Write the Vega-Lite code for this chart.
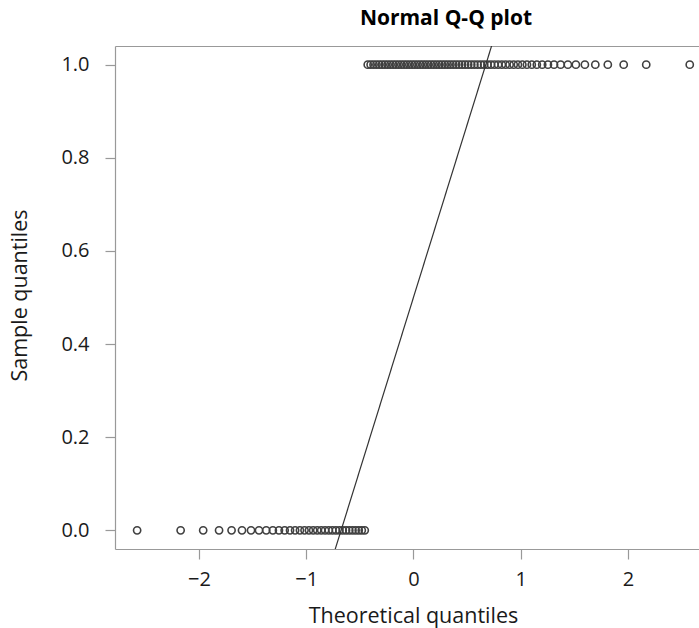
{
  "$schema": "https://vega.github.io/schema/vega-lite/v6.json",
  "width": 584,
  "height": 503,
  "autosize": {"type": "none"},
  "padding": {"left": 115, "top": 46, "right": 0, "bottom": 79},
  "background": "white",
  "title": {"text": "Normal Q-Q plot", "font": "Open Sans", "fontSize": 21, "fontWeight": "bold", "color": "#000000", "anchor": "middle", "dx": 39, "offset": 0, "baseline": "alphabetic"},
  "config": {
    "view": {"stroke": null},
    "axis": {"grid": false, "domainColor": "#999999", "domainWidth": 1.2, "tickColor": "#999999", "tickWidth": 1.2, "tickSize": 10, "labelFont": "Open Sans", "labelFontSize": 20, "labelColor": "#1a1a1a", "titleFont": "Open Sans", "titleFontSize": 21.5, "titleFontWeight": "normal", "titleColor": "#1a1a1a"}
  },
  "datasets": {
    "pts": [
      {"x": -2.5758, "y": 0}, {"x": -2.1701, "y": 0}, {"x": -1.9600, "y": 0}, {"x": -1.8119, "y": 0}, {"x": -1.6954, "y": 0},
      {"x": -1.5982, "y": 0}, {"x": -1.5141, "y": 0}, {"x": -1.4395, "y": 0}, {"x": -1.3722, "y": 0}, {"x": -1.3106, "y": 0},
      {"x": -1.2536, "y": 0}, {"x": -1.2004, "y": 0}, {"x": -1.1503, "y": 0}, {"x": -1.1031, "y": 0}, {"x": -1.0581, "y": 0},
      {"x": -1.0152, "y": 0}, {"x": -0.9741, "y": 0}, {"x": -0.9346, "y": 0}, {"x": -0.8965, "y": 0}, {"x": -0.8596, "y": 0},
      {"x": -0.8239, "y": 0}, {"x": -0.7892, "y": 0}, {"x": -0.7554, "y": 0}, {"x": -0.7225, "y": 0}, {"x": -0.6903, "y": 0},
      {"x": -0.6588, "y": 0}, {"x": -0.6280, "y": 0}, {"x": -0.5978, "y": 0}, {"x": -0.5681, "y": 0}, {"x": -0.5388, "y": 0},
      {"x": -0.5101, "y": 0}, {"x": -0.4817, "y": 0}, {"x": -0.4538, "y": 0},
      {"x": -0.4261, "y": 1}, {"x": -0.3989, "y": 1}, {"x": -0.3719, "y": 1}, {"x": -0.3451, "y": 1}, {"x": -0.3186, "y": 1},
      {"x": -0.2924, "y": 1}, {"x": -0.2663, "y": 1}, {"x": -0.2404, "y": 1}, {"x": -0.2147, "y": 1}, {"x": -0.1891, "y": 1},
      {"x": -0.1637, "y": 1}, {"x": -0.1383, "y": 1}, {"x": -0.1130, "y": 1}, {"x": -0.0878, "y": 1}, {"x": -0.0627, "y": 1},
      {"x": -0.0376, "y": 1}, {"x": -0.0125, "y": 1},
      {"x": 0.0125, "y": 1}, {"x": 0.0376, "y": 1}, {"x": 0.0627, "y": 1}, {"x": 0.0878, "y": 1}, {"x": 0.1130, "y": 1},
      {"x": 0.1383, "y": 1}, {"x": 0.1637, "y": 1}, {"x": 0.1891, "y": 1}, {"x": 0.2147, "y": 1}, {"x": 0.2404, "y": 1},
      {"x": 0.2663, "y": 1}, {"x": 0.2924, "y": 1}, {"x": 0.3186, "y": 1}, {"x": 0.3451, "y": 1}, {"x": 0.3719, "y": 1},
      {"x": 0.3989, "y": 1}, {"x": 0.4261, "y": 1}, {"x": 0.4538, "y": 1}, {"x": 0.4817, "y": 1}, {"x": 0.5101, "y": 1},
      {"x": 0.5388, "y": 1}, {"x": 0.5681, "y": 1}, {"x": 0.5978, "y": 1}, {"x": 0.6280, "y": 1}, {"x": 0.6588, "y": 1},
      {"x": 0.6903, "y": 1}, {"x": 0.7225, "y": 1}, {"x": 0.7554, "y": 1}, {"x": 0.7892, "y": 1}, {"x": 0.8239, "y": 1},
      {"x": 0.8596, "y": 1}, {"x": 0.8965, "y": 1}, {"x": 0.9346, "y": 1}, {"x": 0.9741, "y": 1}, {"x": 1.0152, "y": 1},
      {"x": 1.0581, "y": 1}, {"x": 1.1031, "y": 1}, {"x": 1.1503, "y": 1}, {"x": 1.2004, "y": 1}, {"x": 1.2536, "y": 1},
      {"x": 1.3106, "y": 1}, {"x": 1.3722, "y": 1}, {"x": 1.4395, "y": 1}, {"x": 1.5141, "y": 1}, {"x": 1.5982, "y": 1},
      {"x": 1.6954, "y": 1}, {"x": 1.8119, "y": 1}, {"x": 1.9600, "y": 1}, {"x": 2.1701, "y": 1}, {"x": 2.5758, "y": 1}
    ],
    "ref": [
      {"x": -0.8094, "y": -0.1},
      {"x": 0.8094, "y": 1.1}
    ]
  },
  "layer": [
    {
      "data": {"name": "pts"},
      "mark": {"type": "point", "shape": "circle", "filled": false, "stroke": "#404040", "strokeWidth": 1.6, "size": 52, "opacity": 1},
      "encoding": {
        "x": {"field": "x", "type": "quantitative", "scale": {"domain": [-2.782, 2.662], "nice": false, "zero": false},
              "axis": {"orient": "bottom", "values": [-2, -1, 0, 1, 2], "format": "d", "labelPadding": 10, "title": "Theoretical quantiles", "titleBaseline": "alphabetic", "titleY": 73, "titleX": 298}},
        "y": {"field": "y", "type": "quantitative", "scale": {"domain": [-0.04, 1.04], "nice": false, "zero": false},
              "axis": {"orient": "left", "values": [0, 0.2, 0.4, 0.6, 0.8, 1.0], "format": ".1f", "labelPadding": 16, "title": "Sample quantiles", "titleBaseline": "alphabetic", "titleX": -89, "titleY": 249, "titleAngle": -90}}
      }
    },
    {
      "data": {"name": "ref"},
      "mark": {"type": "line", "clip": true, "color": "#333333", "strokeWidth": 1.2},
      "encoding": {
        "x": {"field": "x", "type": "quantitative", "axis": {"orient": "top", "labels": false, "ticks": false, "title": null, "domain": true}},
        "y": {"field": "y", "type": "quantitative"}
      }
    }
  ],
  "resolve": {"axis": {"x": "independent"}}
}
